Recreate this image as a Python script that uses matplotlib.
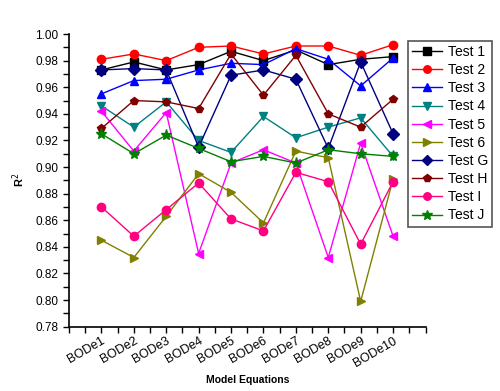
import numpy as np
import matplotlib
matplotlib.use('Agg')
import matplotlib.pyplot as plt
from matplotlib.ticker import MultipleLocator, FixedLocator

plt.rcParams['font.family'] = ['Liberation Sans', 'DejaVu Sans']

# values
equations = ['BODe1', 'BODe2', 'BODe3', 'BODe4', 'BODe5',
             'BODe6', 'BODe7', 'BODe8', 'BODe9', 'BODe10']

test_1 = [0.973, 0.979, 0.973, 0.977, 0.987, 0.980, 0.988, 0.977, 0.981, 0.983]
test_2 = [0.981, 0.985, 0.980, 0.990, 0.991, 0.985, 0.991, 0.991, 0.984, 0.992]
test_3 = [0.955, 0.965, 0.966, 0.973, 0.978, 0.977, 0.989, 0.981, 0.961, 0.982]
test_4 = [0.946, 0.930, 0.949, 0.920, 0.911, 0.938, 0.922, 0.930, 0.937, 0.908]
test_5 = [0.942, 0.912, 0.941, 0.835, 0.903, 0.913, 0.903, 0.832, 0.918, 0.848]
test_6 = [0.845, 0.832, 0.863, 0.895, 0.881, 0.858, 0.912, 0.907, 0.799, 0.891]
test_g = [0.973, 0.974, 0.973, 0.915, 0.969, 0.973, 0.966, 0.914, 0.979, 0.925]
test_h = [0.929, 0.950, 0.949, 0.944, 0.985, 0.954, 0.984, 0.940, 0.930, 0.951]
test_i = [0.870, 0.848, 0.868, 0.888, 0.861, 0.852, 0.896, 0.889, 0.842, 0.889]
test_j = [0.925, 0.910, 0.924, 0.914, 0.904, 0.908, 0.903, 0.913, 0.910, 0.908]

series = [
    ('Test 1', test_1, 'black', 's'),
    ('Test 2', test_2, '#ff0000', 'o'),
    ('Test 3', test_3, '#0000ff', '^'),
    ('Test 4', test_4, '#008080', 'v'),
    ('Test 5', test_5, '#ff00ff', '<'),
    ('Test 6', test_6, '#808000', '>'),
    ('Test G', test_g, '#000080', 'D'),
    ('Test H', test_h, '#800000', 'p'),
    ('Test I', test_i, '#ff0080', 'o'),
    ('Test J', test_j, '#008000', '*'),
]

fig = plt.figure(figsize=(5.0, 3.91), dpi=100)
ax = fig.add_axes([0.138, 0.1645, 0.713, 0.7485])

x = np.arange(1, len(equations) + 1)
for label, vals, color, marker in series:
    ms = 8 if marker == '*' else 6
    ax.plot(x, vals, color=color, marker=marker, markersize=ms, linewidth=1.0,
            markeredgecolor=color, label=label)

ax.set_xlim(0, 11)
ax.set_ylim(0.78, 1.00)
ax.xaxis.set_major_locator(FixedLocator(x))
ax.xaxis.set_minor_locator(MultipleLocator(0.5))
ax.yaxis.set_major_locator(MultipleLocator(0.02))
ax.yaxis.set_minor_locator(MultipleLocator(0.01))
ax.set_xticklabels(equations, rotation=30, ha='right', rotation_mode='anchor', fontsize=9)
ax.set_yticklabels([f'{v:.2f}' for v in ax.get_yticks()], fontsize=8.5)
ax.tick_params(axis='both', which='both', direction='out', length=4, width=1)
ax.tick_params(axis='x', pad=2)

for side in ['top', 'right']:
    ax.spines[side].set_visible(False)
for side in ['left', 'bottom']:
    ax.spines[side].set_linewidth(1.2)

ax.set_xlabel('Model Equations', fontsize=7.5, fontweight='bold', labelpad=4)
ax.set_ylabel('R$^2$', fontsize=8, fontweight='bold', labelpad=6)

leg = ax.legend(loc='upper left', bbox_to_anchor=(407.7 / 500, 1 - 40.7 / 391),
                bbox_transform=fig.transFigure, borderaxespad=0, fontsize=10,
                fancybox=False, edgecolor='#555555', framealpha=1,
                handlelength=2.2, labelspacing=0.3, handletextpad=0.4,
                borderpad=0.3, markerscale=0.9)
leg.get_frame().set_linewidth(1.2)

fig.savefig('out.png', dpi=100)
